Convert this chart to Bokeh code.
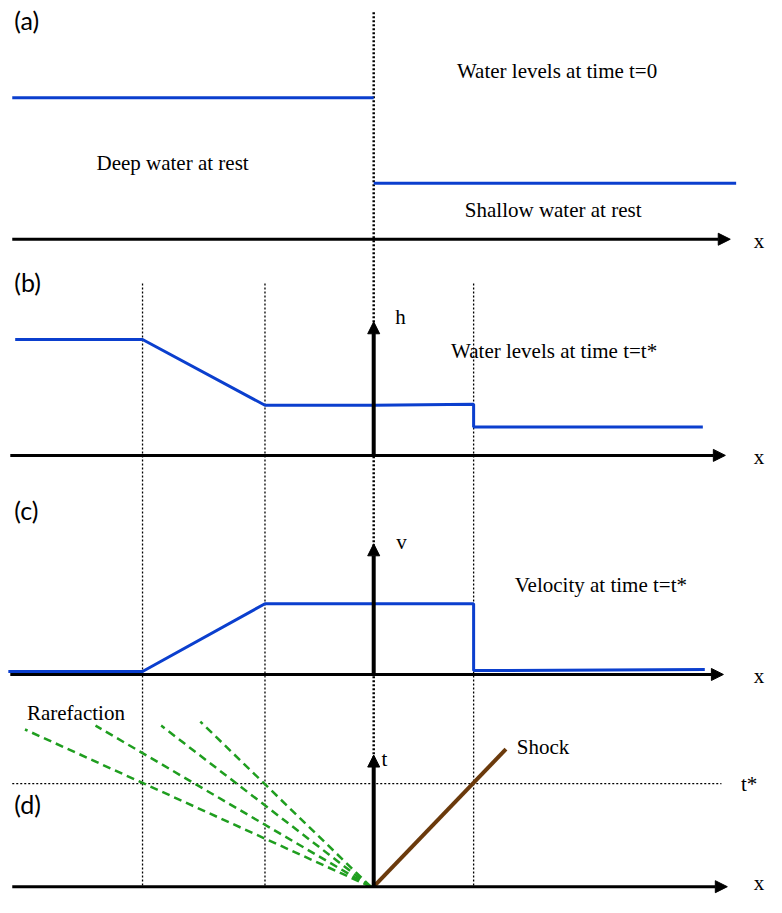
from bokeh.plotting import figure
from bokeh.models import Range1d, Arrow, NormalHead
from bokeh.embed import file_html
from bokeh.resources import INLINE
from bokeh.core.properties import value

# ---- data (diagram coordinates, y grows downward) ----
x_dam = 381
x_rare_head = 145
x_rare_tail = 270
x_shock = 483

# panel (a): initial water levels
a_deep_x = [12, 381]
a_deep_y = [99, 99]
a_shallow_x = [381, 751]
a_shallow_y = [186, 186]
a_axis_y = 243

# panel (b): water levels at t*
b_h_x = [15, 145, 270, 381, 483, 483, 717]
b_h_y = [345, 345, 412, 412, 411, 434, 434]
b_axis_y = 463
b_arrow_top = 327

# panel (c): velocity at t*
c_v_x = [8, 145, 270, 483, 483, 719]
c_v_y = [683, 683, 614, 614, 682, 681]
c_axis_y = 686
c_arrow_top = 553

# panel (d): characteristics
d_axis_y = 902
d_arrow_top = 768
t_star_y = 797
rare_end_x = [25, 97, 164, 204]
rare_end_y = [742, 738, 738, 734]
rare_origin = (378, 902)
shock_x = [381, 516]
shock_y = [902, 762]

axis_left = [12, 10, 10, 12]
axis_right = [745, 740, 738, 742]
axis_ys = [a_axis_y, b_axis_y, c_axis_y, d_axis_y]

panel_tags = ["(a)", "(b)", "(c)", "(d)"]
panel_tag_y = [20, 287, 519, 818]

lab_x = [98, 466, 474, 460, 525, 27, 527, 403, 404, 389, 756, 769, 769, 769, 769]
lab_y = [165, 72, 213, 357, 595, 725, 760, 322, 551, 772, 797, 245, 465, 688, 898]
lab_t = ["Deep water at rest", "Water levels at time t=0", "Shallow water at rest",
         "Water levels at time t=t*", "Velocity at time t=t*", "Rarefaction", "Shock",
         "h", "v", "t", "t*", "x", "x", "x", "x"]

BLUE = "#0b3fce"
GREEN = "#1f9e1f"
BROWN = "#6b3a0c"
SERIF = value("Liberation Serif")
SANS = value("Lato")

p = figure(width=766, height=897, x_range=Range1d(0, 782), y_range=Range1d(913, 0),
           output_backend="svg", toolbar_location=None, min_border=0)
p.axis.visible = False
p.grid.visible = False
p.outline_line_color = None
p.background_fill_color = "white"

# dotted vertical guide lines
p.line([x_dam, x_dam], [12, 903], line_color="black", line_width=2.5, line_dash="2 2")
for xv in [x_rare_head, x_rare_tail, x_shock]:
    p.line([xv, xv], [288, 903], line_color="black", line_width=1.3, line_dash="2 2")
# t* dotted horizontal
p.line([12, 736], [t_star_y, t_star_y], line_color="black", line_width=1.3, line_dash="2 2")

# blue profiles
p.line(a_deep_x, a_deep_y, line_color=BLUE, line_width=3)
p.line(a_shallow_x, a_shallow_y, line_color=BLUE, line_width=3)
p.line(b_h_x, b_h_y, line_color=BLUE, line_width=3)
p.line(c_v_x, c_v_y, line_color=BLUE, line_width=3)

# rarefaction fan
for ex, ey in zip(rare_end_x, rare_end_y):
    p.line([rare_origin[0], ex], [rare_origin[1], ey], line_color=GREEN,
           line_width=2.5, line_dash="8 5")
# shock
p.line(shock_x, shock_y, line_color=BROWN, line_width=4)

# horizontal x axes with arrows
for xl, xr, yv in zip(axis_left, axis_right, axis_ys):
    p.add_layout(Arrow(end=NormalHead(size=12, fill_color="black", line_color="black"),
                       x_start=xl, y_start=yv, x_end=xr, y_end=yv,
                       line_color="black", line_width=3))
# vertical h, v, t arrows
for y0, y1 in [(b_axis_y, b_arrow_top), (c_axis_y, c_arrow_top), (d_axis_y, d_arrow_top)]:
    p.add_layout(Arrow(end=NormalHead(size=12, fill_color="black", line_color="black"),
                       x_start=x_dam, y_start=y0, x_end=x_dam, y_end=y1,
                       line_color="black", line_width=4))

# panel labels
p.text(x=[14] * 4, y=panel_tag_y, text=panel_tags,
       text_font=SANS, text_font_size="25px", text_baseline="middle", text_align="left",
       text_color="black")

# serif annotations
p.text(x=lab_x, y=lab_y, text=lab_t, text_font=SERIF, text_font_size="21px",
       text_baseline="middle", text_align="left", text_color="black")

open("out.html", "w").write(file_html(p, INLINE))
